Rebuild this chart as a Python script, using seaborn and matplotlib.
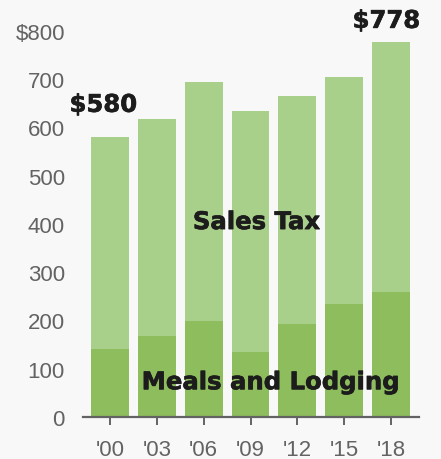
import matplotlib
matplotlib.use("Agg")
import matplotlib.pyplot as plt
import matplotlib.patheffects as pe
import seaborn as sns
import pandas as pd

# Revenue by fiscal year, in millions of dollars
years = ["'00", "'03", "'06", "'09", "'12", "'15", "'18"]
meals_lodging = [140, 167, 199, 134, 193, 235, 260]
sales_tax = [440, 450, 496, 500, 472, 469, 518]
y_ticks = [0, 100, 200, 300, 400, 500, 600, 700, 800]
y_tick_labels = ["0", "100", "200", "300", "400", "500", "600", "700", "$800"]

totals = [m + s for m, s in zip(meals_lodging, sales_tax)]
df = pd.DataFrame({"year": years, "meals": meals_lodging, "total": totals})

light_green = "#a9d08a"
dark_green = "#8dbd5c"
bg = "#f8f8f8"
tick_gray = "#636363"
ink = "#1c1c1c"

sns.set_theme(style="white")
plt.rcParams["font.family"] = ["Liberation Sans", "DejaVu Sans"]

fig = plt.figure(figsize=(4.41, 4.60), dpi=100, facecolor=bg)
ax = fig.add_axes([83 / 441, 42 / 460, 336 / 441, 386 / 460])
ax.set_facecolor(bg)

# Full bar = total revenue; darker lower segment = meals and lodging
sns.barplot(data=df, x="year", y="total", color=light_green, width=0.81,
            saturation=1, linewidth=0, ax=ax)
sns.barplot(data=df, x="year", y="meals", color=dark_green, width=0.81,
            saturation=1, linewidth=0, ax=ax)

ax.set_xlim(-0.58, 6.6)
ax.set_ylim(0, 800)
ax.set_xlabel("")
ax.set_ylabel("")

ax.set_yticks(y_ticks)
ax.set_yticklabels(y_tick_labels)
ax.tick_params(axis="y", length=0, pad=13, labelsize=16, labelcolor=tick_gray)
ax.tick_params(axis="x", direction="out", length=6, width=1.4, color=tick_gray,
               pad=10, labelsize=16, labelcolor=tick_gray, bottom=True)

for side in ["left", "right", "top"]:
    ax.spines[side].set_visible(False)
ax.spines["bottom"].set_color(tick_gray)
ax.spines["bottom"].set_linewidth(1.6)

# Heavy labels: bold face thickened slightly with a same-colour outline
heavy = [pe.withStroke(linewidth=0.45, foreground=ink)]
bold = dict(family=["DejaVu Sans"], weight="bold", color=ink,
            clip_on=False, path_effects=heavy)
ax.text(-0.15, totals[0] + 67, f"${totals[0]}", ha="center", va="center",
        fontsize=17.5, **bold)
ax.text(5.9, totals[-1] + 43, f"${totals[-1]}", ha="center", va="center",
        fontsize=17.5, **bold)
ax.text(3.12, 404, "Sales Tax", ha="center", va="center", fontsize=17.5, **bold)
ax.text(3.42, 72, "Meals and Lodging", ha="center", va="center",
        fontsize=17.5, **bold)

fig.savefig("out.png", dpi=100, facecolor=bg)
